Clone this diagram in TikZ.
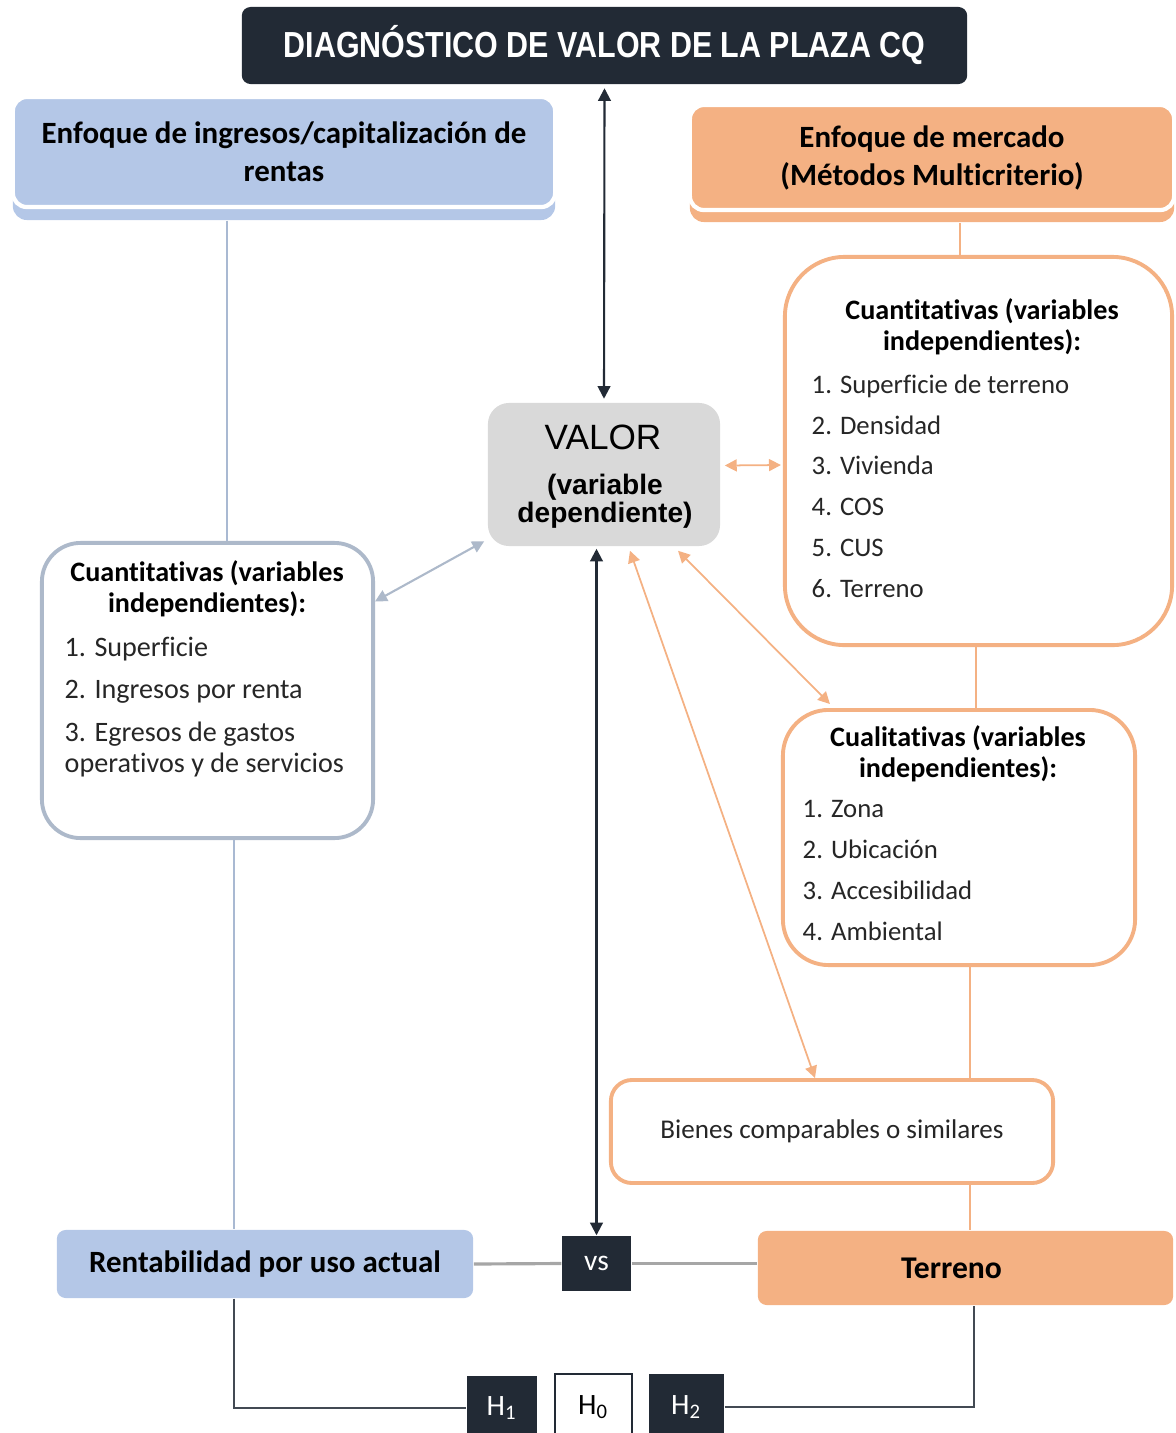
\documentclass[tikz,border=0pt]{standalone}
\usepackage{fontspec}
\setmainfont{Carlito}[Ligatures=NoCommon]
\newfontfamily\arialfont{Liberation Sans}
\newfontfamily\narrowfont{Liberation Sans}[FakeStretch=0.84]
\usetikzlibrary{arrows.meta,calc}
\definecolor{navy}{HTML}{222A35}
\definecolor{hdrblue}{HTML}{B4C7E7}
\definecolor{edgeblue}{HTML}{ADB9CA}
\definecolor{hdrorange}{HTML}{F4B183}
\definecolor{valgray}{HTML}{D9D9D9}
\definecolor{txtgray}{HTML}{262626}

\begin{document}
\begin{tikzpicture}[x=0.01cm,y=-0.01cm,
  darkbox/.style={fill=navy,text=white,inner sep=0pt},
  hdrbox/.style={rounded corners=4pt,inner sep=0pt,align=center,
    font=\bfseries\fontsize{8.8}{10.8}\selectfont},
  varbox/.style={draw,line width=1.1pt,fill=white,inner sep=0pt},
  vartitle/.style={align=center,inner sep=0pt,font=\bfseries\fontsize{8}{8.8}\selectfont},
  varlist/.style={align=left,inner sep=0pt,anchor=north west,text=txtgray,
    font=\fontsize{7.6}{8.8}\selectfont},
  dtip/.tip={Triangle[length=3.6pt,width=3.6pt]},
  otip/.tip={Triangle[length=3.4pt,width=3.4pt]},
  darkarrow/.style={draw=navy,line width=0.6pt,dtip-dtip},
  orangearrow/.style={draw=hdrorange,line width=0.5pt,otip-otip},
  bluearrow/.style={draw=edgeblue,line width=0.6pt,otip-otip},
  blueline/.style={draw=hdrblue!80!gray,line width=0.5pt},
  orangeline/.style={draw=hdrorange,line width=0.5pt},
  grayline/.style={draw=gray!70,line width=0.9pt},
  hline/.style={draw=navy!85,line width=0.6pt}]

\useasboundingbox (0,0) rectangle (1175,1433);

% ---------- title ----------
\node[darkbox,rounded corners=2.5pt,minimum width=7.25cm,minimum height=0.77cm,
  font=\narrowfont\bfseries\fontsize{10.3}{12}\selectfont] (title) at (604.5,45.5)
  {DIAGNÓSTICO DE VALOR DE LA PLAZA CQ};

% ---------- approach headers (back band + front box) ----------
\node[hdrbox,fill=hdrblue,minimum width=5.42cm,minimum height=1.10cm] (lhdrB) at (284,165) {};
\node[hdrbox,fill=hdrblue,draw=white,line width=1.2pt,minimum width=5.42cm,minimum height=1.10cm]
  (lhdr) at (284,152) {Enfoque de ingresos/capitalización de\\rentas};
\node[hdrbox,fill=hdrorange,minimum width=4.84cm,minimum height=1.05cm] (rhdrB) at (932,169.5) {};
\node[hdrbox,fill=hdrorange,draw=white,line width=1.2pt,minimum width=4.84cm,minimum height=1.05cm]
  (rhdr) at (932,157.5) {Enfoque de mercado\\(Métodos Multicriterio)};

% ---------- valor ----------
\node[fill=valgray,rounded corners=6pt,minimum width=2.32cm,minimum height=1.43cm] (valor) at (604,474.5) {};
\node[inner sep=0pt,font=\arialfont\fontsize{10}{12}\selectfont] (valorT) at (603,437) {VALOR};
\node[inner sep=0pt,align=center,font=\arialfont\bfseries\fontsize{8}{7.9}\selectfont] (valorS) at (605,501)
  {(variable\\dependiente)};

% ---------- left variables ----------
\node[varbox,draw=edgeblue,rounded corners=11pt,minimum width=3.31cm,minimum height=2.95cm] (lcuant) at (207.5,690.5) {};
\node[vartitle] (lcuantT) at (207,589) {Cuantitativas (variables\\independientes):};
\node[varlist,font=\fontsize{8}{8.8}\selectfont] (lcuantL) at (64,636)
  {1. Superficie\\[3.4pt]2. Ingresos por renta\\[3.4pt]3. Egresos de gastos\\operativos y de servicios};

% ---------- right variables ----------
\node[varbox,draw=hdrorange,rounded corners=17pt,minimum width=3.87cm,minimum height=3.88cm] (rcuant) at (978.5,451) {};
\node[vartitle] (rcuantT) at (982,327) {Cuantitativas (variables\\independientes):};
\node[varlist] (rcuantL) at (811,374)
  {1. Superficie de terreno\\[2.8pt]2. Densidad\\[2.8pt]3. Vivienda\\[2.8pt]4. COS\\[2.8pt]5. CUS\\[2.8pt]6. Terreno};

\node[varbox,draw=hdrorange,rounded corners=13pt,minimum width=3.52cm,minimum height=2.55cm] (rcual) at (959,837.5) {};
\node[vartitle] (rcualT) at (958,754) {Cualitativas (variables\\independientes):};
\node[varlist] (rcualL) at (802,800)
  {1. Zona\\[2.8pt]2. Ubicación\\[2.8pt]3. Accesibilidad\\[2.8pt]4. Ambiental};

\node[varbox,draw=hdrorange,rounded corners=6pt,minimum width=4.42cm,minimum height=1.03cm,
  text=txtgray,font=\fontsize{7.7}{8.4}\selectfont] (bienes) at (832,1131.5) {Bienes comparables o similares};

% ---------- bottom row ----------
\node[fill=hdrblue,rounded corners=2.5pt,minimum width=4.16cm,minimum height=0.68cm,
  font=\bfseries\fontsize{8.8}{10}\selectfont] (renta) at (265,1264) {Rentabilidad por uso actual};
\node[fill=hdrorange,rounded corners=2.5pt,minimum width=4.15cm,minimum height=0.74cm,
  font=\bfseries\fontsize{9}{10}\selectfont] (terreno) at (965.5,1268) {Terreno\kern0.28cm};
\node[darkbox,minimum width=0.69cm,minimum height=0.55cm,font=\fontsize{8.4}{9}\selectfont] (vs) at (596.5,1263.5) {vs};

\node[darkbox,minimum width=0.70cm,minimum height=0.64cm,font=\fontsize{8.4}{9}\selectfont] (h1) at (502,1408) {H\textsubscript{1}};
\node[draw=navy,line width=0.8pt,fill=white,inner sep=0pt,minimum width=0.77cm,minimum height=0.66cm,
  font=\fontsize{8.4}{9}\selectfont] (h0) at (593.5,1407) {H\textsubscript{0}};
\node[darkbox,minimum width=0.75cm,minimum height=0.66cm,font=\fontsize{8.4}{9}\selectfont] (h2) at (686.5,1407) {H\textsubscript{2}};

% ---------- connector x positions ----------
\coordinate (lx) at (227,0);
\coordinate (lx2) at (234,0);
\coordinate (rx1) at (960,0);
\coordinate (rx2) at (976,0);
\coordinate (rx3) at (970,0);
\coordinate (rx4) at (974,0);

% ---------- plain lines ----------
\draw[blueline] (lhdrB.south -| lx) -- (lcuant.north -| lx);
\draw[blueline] (lcuant.south -| lx2) -- (renta.north -| lx2);
\draw[orangeline] (rhdrB.south -| rx1) -- (rcuant.north -| rx1);
\draw[orangeline] (rcuant.south -| rx2) -- (rcual.north -| rx2);
\draw[orangeline] (rcual.south -| rx3) -- (bienes.north -| rx3);
\draw[orangeline] (bienes.south -| rx3) -- (terreno.north -| rx3);
\draw[grayline] (renta.east) -- (vs.west);
\draw[grayline] (vs.east) -- (vs.east -| terreno.west);
\draw[hline] (renta.south -| lx2) |- (h1.west);
\draw[hline] (h2.east) -| (terreno.south -| rx4);

% ---------- arrows ----------
\draw[darkarrow] ([yshift=-1pt]title.south) -- ([yshift=1pt]valor.north);
\draw[darkarrow] (vs.north) -- ($(vs.north |- valor.south)+(0,2)$);
\draw[bluearrow] (lcuant.28) -- ($(valor.209)+(-3,2)$);
\draw[orangearrow] ($(valor.east)+(4,-9)$) -- ($(rcuant.west)+(-2,14)$);
\draw[orangearrow] ($(valor.south)+(74,4)$) -- ($(rcual.north west)+(49,-4)$);
\draw[orangearrow] ($(valor.south)+(26,4)$) -- ($(bienes.north)+(-17,0)$);

\end{tikzpicture}
\end{document}
